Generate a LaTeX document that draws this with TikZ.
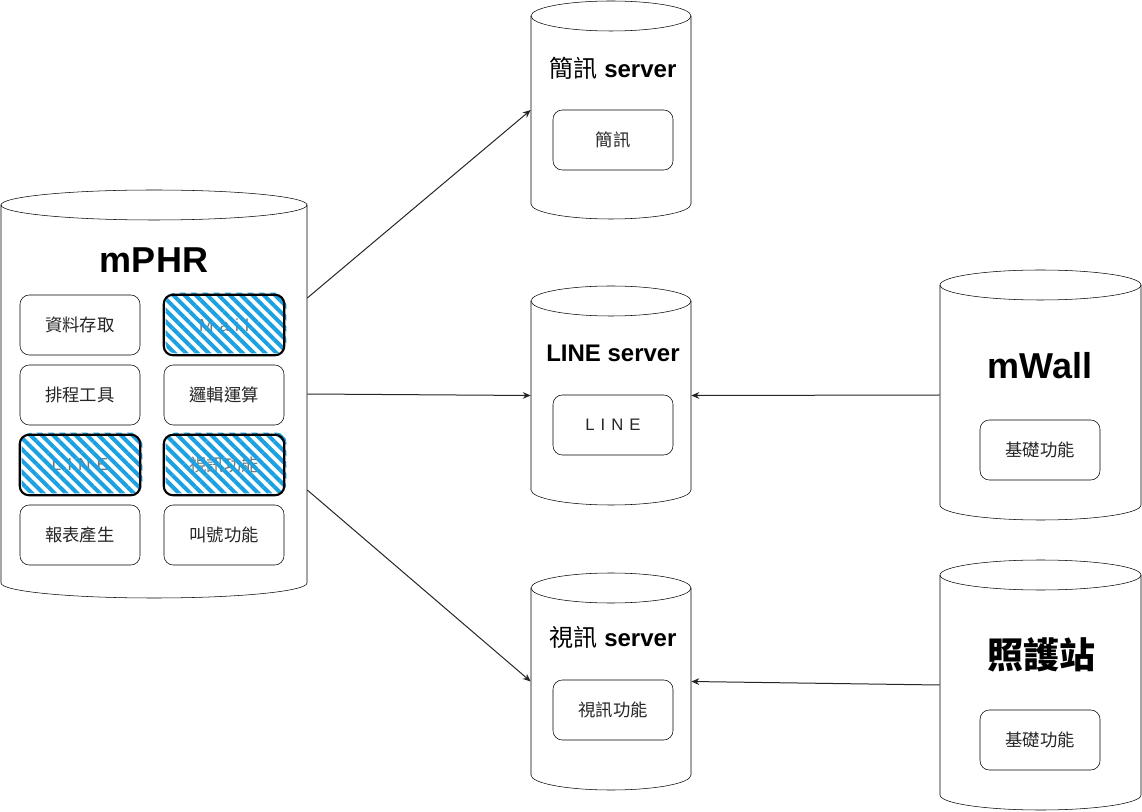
\documentclass[tikz,border=0pt]{standalone}
\usepackage{fontspec}
\setmainfont{Liberation Sans}
\newfontfamily\cjk{Noto Sans CJK TC}
\usetikzlibrary{arrows.meta,patterns.meta,calc}
\definecolor{hatchblue}{HTML}{1BA1E2}
\newcommand\zh[1]{{\cjk #1}}
\newcommand\cylshape[5]{%
  \draw[fill=white] ({#2},{-(#3+15)}) -- ({#2},{-(#3+#5-15)})
     arc[start angle=180,end angle=360,x radius={#4/2},y radius=15] -- ({#2+#4},{-(#3+15)});
  \draw ({#2+#4/2},{-(#3+15)}) ellipse [x radius={#4/2}, y radius=15];
  \node[inner sep=0pt, minimum width={#4*0.75pt}, minimum height={#5*0.75pt}] (#1) at ({#2+#4/2},{-(#3+#5/2)}) {};
}
\tikzset{
  box/.style={draw, fill=white, rounded corners=7pt, minimum width=90pt, minimum height=45pt, inner sep=0pt, text=black!85, font=\cjk\fontsize{13pt}{15pt}\selectfont},
  hbox/.style={fill=white, minimum width=90pt, minimum height=45pt, inner sep=0pt, text=black!55, font=\cjk\fontsize{13pt}{15pt}\selectfont},
  hatchfill/.style={pattern={Lines[angle=-45,distance=6pt,line width=3pt]}, pattern color=hatchblue, rounded corners=7pt},
  hborder/.style={draw=black, line width=1.6pt, rounded corners=7pt},
  bigtitle/.style={font=\bfseries\fontsize{27pt}{30pt}\selectfont},
  srvtitle/.style={font=\bfseries\fontsize{18pt}{21pt}\selectfont},
  conn/.style={draw=black!85, line width=0.75pt, -{Stealth[length=6pt,width=5pt]}},
}
\begin{document}
\begin{tikzpicture}[x=0.75pt,y=0.75pt]
\useasboundingbox (0,0) rectangle (1142,-812);
% cylinders
\cylshape{mphr}{1}{190}{306}{408}
\cylshape{sms}{531}{1}{160}{218}
\cylshape{line}{531}{286}{160}{219}
\cylshape{video}{531}{573}{160}{217}
\cylshape{mwall}{940}{270}{201}{250}
\cylshape{care}{940}{560}{201}{250}
% titles
\node[bigtitle] (tmphr) at (154,-260) {mPHR};
\node[srvtitle] (tsms) at (613,-68) {\zh{\mdseries 簡訊} server};
\node[srvtitle] (tline) at (613,-353) {LINE server};
\node[srvtitle] (tvideo) at (613,-637) {\zh{\mdseries 視訊} server};
\node[bigtitle] (tmwall) at (1040,-366) {mWall};
\node[bigtitle, font=\cjk\bfseries\fontsize{27pt}{30pt}\selectfont] (tcare) at (1041,-655) {照護站};
% mPHR boxes
\node[box] (b1) at (80,-325) {資料存取};
\node[box] (b3) at (80,-395) {排程工具};
\node[box] (b4) at (224,-395) {邏輯運算};
\node[box] (b7) at (80,-535) {報表產生};
\node[box] (b8) at (224,-535) {叫號功能};
% hatched boxes
\node[hbox] (b2) at (224,-325) {\rmfamily M\hspace{4.5pt}a\hspace{4.5pt}i\hspace{4.5pt}l};
\node[hbox] (b5) at (80,-465) {\rmfamily L\hspace{4.5pt}I\hspace{4.5pt}N\hspace{4.5pt}E};
\node[hbox] (b6) at (224,-465) {視訊功能};
\foreach \b in {b2,b5,b6}{
  \path[hatchfill] ([shift={(2,2)}]\b.south west) rectangle ([shift={(2,2)}]\b.north east);
  \draw[hborder] (\b.south west) rectangle (\b.north east);
}
% server boxes
\node[box] (s1) at (613,-140) {簡訊};
\node[box, font=\fontsize{12.5pt}{15pt}\selectfont] (s2) at (613,-425) {L\hspace{4.5pt}I\hspace{4.5pt}N\hspace{4.5pt}E};
\node[box] (s3) at (613,-710) {視訊功能};
\node[box] (s4) at (1040,-450) {基礎功能};
\node[box] (s5) at (1040,-740) {基礎功能};
% connectors
\draw[conn] ($(mphr.east)+(0,96)$) -- (sms.west);
\draw[conn] (mphr.east) -- (line.west);
\draw[conn] ($(mphr.east)+(0,-96)$) -- (video.west);
\draw[conn] (mwall.west) -- (line.east);
\draw[conn] (care.west) -- (video.east);
\end{tikzpicture}
\end{document}
